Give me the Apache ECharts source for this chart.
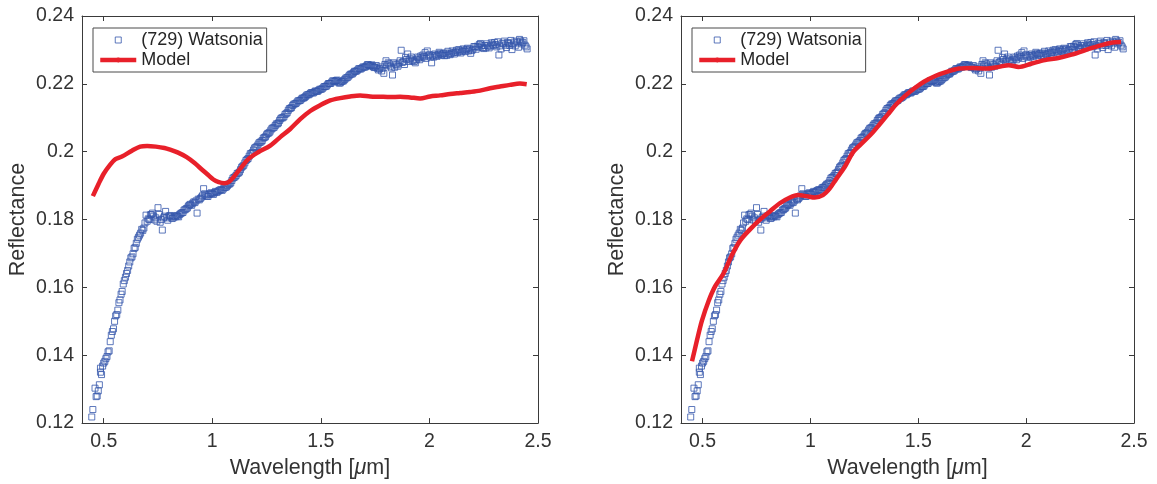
<!DOCTYPE html>
<html>
<head>
<meta charset="utf-8">
<script src="https://cdn.jsdelivr.net/npm/echarts@6/dist/echarts.min.js"></script>
<style>
html,body{margin:0;padding:0;background:#fff;}
#chart{width:1157px;height:484px;}
</style>
</head>
<body>
<div id="chart"></div>
<script>
// ---- Data ----
var xTicks = [0.5, 1, 1.5, 2, 2.5];
var yTicks = [0.12, 0.14, 0.16, 0.18, 0.2, 0.22, 0.24];

var obsWl = [0.445,0.45,0.46,0.465,0.47,0.48,0.485,0.49,0.50,0.51,0.52,0.53,0.54,0.55,0.56,0.57,0.58,0.59,0.60,0.61,0.62,0.63,0.64,0.65,0.66,0.67,0.68,0.69,0.70,0.71,0.72,0.73,0.74,0.75,0.76,0.77,0.78,0.79,0.80,0.81,0.82,0.83,0.84,0.85,0.86,0.87,0.88,0.89,0.90,0.91,0.92,0.93,0.94,0.95,0.96,0.97,0.98,0.99,1.00,1.01,1.02,1.03,1.04,1.05,1.06,1.07,1.08,1.09,1.10,1.11,1.12,1.13,1.14,1.15,1.16,1.17,1.18,1.19,1.20,1.21,1.22,1.23,1.24,1.25,1.26,1.27,1.28,1.29,1.30,1.31,1.32,1.33,1.34,1.35,1.36,1.37,1.38,1.39,1.40,1.41,1.42,1.43,1.44,1.45,1.46,1.47,1.48,1.49,1.50,1.51,1.52,1.53,1.54,1.55,1.56,1.57,1.58,1.59,1.60,1.61,1.62,1.63,1.64,1.65,1.66,1.67,1.68,1.69,1.70,1.71,1.72,1.73,1.74,1.75,1.76,1.77,1.78,1.79,1.80,1.81,1.82,1.83,1.84,1.85,1.86,1.87,1.88,1.89,1.90,1.91,1.92,1.93,1.94,1.95,1.96,1.97,1.98,1.99,2.00,2.01,2.02,2.03,2.04,2.05,2.06,2.07,2.08,2.09,2.10,2.11,2.12,2.13,2.14,2.15,2.16,2.17,2.18,2.19,2.20,2.21,2.22,2.23,2.24,2.25,2.26,2.27,2.28,2.29,2.30,2.31,2.32,2.33,2.34,2.35,2.36,2.37,2.38,2.39,2.40,2.41,2.42,2.43,2.44,2.45];
var obsRef = [0.1218,0.1240,0.1303,0.1278,0.1280,0.1313,0.1362,0.1343,0.1377,0.1390,0.1410,0.1440,0.1470,0.1500,0.1520,0.1555,0.1580,0.1610,0.1630,0.1650,0.1675,0.1690,0.1715,0.1730,0.1748,0.1760,0.1768,0.1790,0.1795,0.1800,0.1815,0.1810,0.1805,0.1835,0.1792,0.1769,0.1810,0.1805,0.1810,0.1808,0.1805,0.1808,0.1810,0.1815,0.1820,0.1828,0.1832,0.1840,0.1845,0.1848,0.1850,0.1819,0.1858,0.1866,0.1891,0.1872,0.1868,0.1876,0.1877,0.1879,0.1880,0.1885,0.1888,0.1890,0.1895,0.1900,0.1905,0.1915,0.1924,0.1930,0.1937,0.1947,0.1957,0.1967,0.1977,0.1987,0.1995,0.2005,0.2013,0.2020,0.2028,0.2033,0.2042,0.2050,0.2055,0.2064,0.2070,0.2077,0.2082,0.2092,0.2100,0.2103,0.2112,0.2122,0.2128,0.2136,0.2141,0.2146,0.2150,0.2155,0.2158,0.2163,0.2168,0.2171,0.2174,0.2176,0.2178,0.2181,0.2184,0.2188,0.2192,0.2197,0.2201,0.2205,0.2208,0.2210,0.2205,0.2203,0.2208,0.2213,0.2218,0.2224,0.2229,0.2233,0.2237,0.2241,0.2244,0.2247,0.2249,0.2253,0.2256,0.2254,0.2251,0.2249,0.2246,0.2244,0.2238,0.2231,0.2268,0.2262,0.2252,0.2226,0.2249,0.2256,0.2261,0.2299,0.2266,0.2278,0.2288,0.2274,0.2268,0.2266,0.2271,0.2276,0.2282,0.2285,0.2292,0.2297,0.2286,0.2262,0.2279,0.2284,0.2286,0.2289,0.2287,0.2283,0.2284,0.2288,0.2290,0.2292,0.2294,0.2293,0.2297,0.2296,0.2299,0.2301,0.2297,0.2290,0.2302,0.2309,0.2311,0.2316,0.2312,0.2304,0.2306,0.2312,0.2311,0.2317,0.2322,0.2309,0.2285,0.2303,0.2318,0.2314,0.2322,0.2313,0.2301,0.2323,0.2326,0.2308,0.2326,0.2322,0.2314,0.2303];

var obsWl2 = [1.755,1.765,1.775,1.785,1.795,1.805,1.815,1.825,1.835,1.845,1.855,1.865,1.875,1.885,1.895,1.905,1.915,1.925,1.935,1.945,1.955,1.965,1.975,1.985,1.995,2.005,2.015,2.025,2.035,2.045,2.055,2.065,2.075,2.085,2.095,2.105,2.115,2.125,2.135,2.145,2.155,2.165,2.175,2.185,2.195,2.205,2.215,2.225,2.235,2.245,2.255,2.265,2.275,2.285,2.295,2.305,2.315,2.325,2.335,2.345,2.355,2.365,2.375,2.385,2.395,2.405,2.415,2.425,2.435,2.445];
var obsRef2 = [0.2254,0.2241,0.2250,0.2246,0.2257,0.2255,0.2259,0.2247,0.2262,0.2258,0.2252,0.2268,0.2263,0.2257,0.2272,0.2266,0.2279,0.2270,0.2262,0.2279,0.2271,0.2277,0.2280,0.2275,0.2283,0.2279,0.2284,0.2288,0.2281,0.2293,0.2284,0.2290,0.2291,0.2296,0.2286,0.2297,0.2288,0.2299,0.2301,0.2291,0.2303,0.2295,0.2305,0.2303,0.2298,0.2310,0.2302,0.2308,0.2319,0.2307,0.2313,0.2318,0.2306,0.2321,0.2313,0.2316,0.2324,0.2312,0.2320,0.2326,0.2307,0.2319,0.2328,0.2317,0.2312,0.2321,0.2331,0.2318,0.2327,0.2309];

var obsWl3 = [0.475,0.485,0.495,0.505,0.515,0.525,0.535,0.545,0.555,0.565,
0.575,0.585,0.595,0.605,0.615,0.625,0.635,0.645,0.655,0.665,
0.675,0.685,0.695,0.705,0.715,0.725,0.735,0.745,0.755,0.765,
0.775,0.785,0.795,0.805,0.815,0.825,0.835,0.845,0.855,0.865,
0.875,0.885,0.895,0.905,0.915,0.925,0.935,0.945,0.955,0.965,
0.975,0.985,0.995,1.005,1.015,1.025,1.035,1.045,1.055,1.065,
1.075,1.085,1.095,1.105,1.115,1.125,1.135,1.145,1.155,1.165,
1.175,1.185,1.195,1.205,1.215,1.225,1.235,1.245,1.255,1.265,
1.275,1.285,1.295,1.305,1.315,1.325,1.335,1.345,1.355,1.365,
1.375,1.385,1.395,1.405,1.415,1.425,1.435,1.445,1.455,1.465,
1.475,1.485,1.495,1.505,1.515,1.525,1.535,1.545,1.555,1.565,
1.575,1.585,1.595,1.605,1.615,1.625,1.635,1.645,1.655,1.665,
1.675,1.685,1.695,1.705,1.715,1.725,1.735,1.745];
var obsRef3 = [0.1295,0.1350,0.1368,0.1382,0.1396,0.1413,0.1459,0.1478,0.1516,0.1533,
0.1563,0.1588,0.1620,0.1641,0.1663,0.1687,0.1699,0.1718,0.1742,0.1754,
0.1771,0.1775,0.1813,0.1802,0.1814,0.1819,0.1799,0.1795,0.1815,0.1800,
0.1805,0.1824,0.1798,0.1812,0.1803,0.1810,0.1812,0.1808,0.1818,0.1821,
0.1829,0.1834,0.1843,0.1842,0.1852,0.1855,0.1860,0.1862,0.1870,0.1876,
0.1869,0.1874,0.1879,0.1874,0.1883,0.1882,0.1887,0.1886,0.1894,0.1896,
0.1904,0.1908,0.1922,0.1926,0.1936,0.1940,0.1954,0.1960,0.1974,0.1980,
0.1994,0.1998,0.2011,0.2015,0.2026,0.2029,0.2040,0.2044,0.2054,0.2058,
0.2069,0.2072,0.2082,0.2085,0.2097,0.2100,0.2110,0.2115,0.2127,0.2130,
0.2140,0.2142,0.2150,0.2151,0.2158,0.2160,0.2167,0.2168,0.2174,0.2173,
0.2179,0.2178,0.2184,0.2185,0.2192,0.2193,0.2201,0.2201,0.2209,0.2207,
0.2211,0.2202,0.2207,0.2209,0.2217,0.2220,0.2228,0.2229,0.2237,0.2238,
0.2245,0.2244,0.2250,0.2250,0.2257,0.2253,0.2256,0.2248];

var modelLWl = [0.450,0.474,0.500,0.530,0.554,0.584,0.630,0.668,0.700,0.740,0.780,0.806,0.840,0.882,0.920,0.944,0.980,1.005,1.030,1.055,1.075,1.098,1.129,1.167,1.213,1.267,1.313,1.359,1.405,1.451,1.497,1.543,1.589,1.635,1.681,1.727,1.773,1.819,1.865,1.911,1.957,2.003,2.049,2.095,2.141,2.187,2.233,2.279,2.325,2.371,2.417,2.448];
var modelLRef = [0.1869,0.1902,0.1935,0.1962,0.1978,0.1986,0.2003,0.2015,0.2017,0.2015,0.2011,0.2006,0.1998,0.1984,0.1966,0.1952,0.1932,0.1918,0.1910,0.1907,0.1910,0.1925,0.1950,0.1979,0.1999,0.2018,0.2043,0.2067,0.2096,0.2120,0.2137,0.2151,0.2158,0.2163,0.2166,0.2163,0.2162,0.2161,0.2162,0.2160,0.2157,0.2163,0.2166,0.2170,0.2173,0.2176,0.2180,0.2187,0.2192,0.2197,0.2201,0.2199];

var modelRWl = [0.451,0.474,0.497,0.528,0.558,0.597,0.635,0.674,0.720,0.766,0.812,0.858,0.905,0.943,0.982,1.020,1.058,1.089,1.120,1.158,1.198,1.244,1.282,1.321,1.359,1.397,1.436,1.482,1.528,1.581,1.635,1.689,1.750,1.811,1.873,1.919,1.965,2.026,2.087,2.149,2.210,2.272,2.333,2.394,2.440];
var modelRRef = [0.1382,0.1444,0.1502,0.1560,0.1603,0.1641,0.1694,0.1738,0.1771,0.1800,0.1824,0.1848,0.1865,0.1872,0.1869,0.1865,0.1872,0.1891,0.1920,0.1954,0.1999,0.2028,0.2052,0.2081,0.2110,0.2139,0.2163,0.2187,0.2207,0.2224,0.2236,0.2245,0.2247,0.2245,0.2250,0.2255,0.2250,0.2260,0.2270,0.2276,0.2286,0.2299,0.2311,0.2321,0.2323];

var obsName = '(729) Watsonia';
var modelName = 'Model';

// ---- Build ----
function pairs(a, b) { return a.map(function (v, i) { return [v, b[i]]; }); }
var obsData = pairs(obsWl, obsRef).concat(pairs(obsWl3, obsRef3)).concat(pairs(obsWl2, obsRef2));

var FONT = '"Liberation Sans", Arial, sans-serif';
var TXT = '#333333';
var AX = '#3a3a3a';
var BLUE = '#3556ab';
var RED = '#e8202a';

function fmt(v) { return String(+v.toFixed(2)); }

function xAxes(g) {
  return [{
    gridIndex: g, type: 'value', min: 0.4, max: 2.5, position: 'bottom',
    axisLine: { show: true, onZero: false, lineStyle: { color: AX, width: 1 } },
    axisTick: { show: true, inside: true, length: 5, customValues: xTicks, lineStyle: { color: AX } },
    axisLabel: { customValues: xTicks, formatter: fmt, fontSize: 19.5, color: TXT, fontFamily: FONT, margin: 9 },
    splitLine: { show: false },
    name: 'Wavelength [{mu|μ}m]', nameLocation: 'middle', nameGap: 25,
    nameTextStyle: { fontSize: 21.5, color: TXT, fontFamily: FONT,
      rich: { mu: { fontSize: 21.5, color: TXT, fontFamily: FONT, fontStyle: 'italic' } } }
  }, {
    gridIndex: g, type: 'value', min: 0.4, max: 2.5, position: 'top',
    axisLine: { show: true, onZero: false, lineStyle: { color: AX, width: 1 } },
    axisTick: { show: true, inside: true, length: 5, customValues: xTicks, lineStyle: { color: AX } },
    axisLabel: { show: false, customValues: xTicks },
    splitLine: { show: false }
  }];
}
function yAxes(g) {
  return [{
    gridIndex: g, type: 'value', min: 0.12, max: 0.24, position: 'left',
    axisLine: { show: true, onZero: false, lineStyle: { color: AX, width: 1 } },
    axisTick: { show: true, inside: true, length: 5, customValues: yTicks, lineStyle: { color: AX } },
    axisLabel: { customValues: yTicks, formatter: fmt, fontSize: 19.5, color: TXT, fontFamily: FONT, margin: 8 },
    splitLine: { show: false },
    name: 'Reflectance', nameLocation: 'middle', nameGap: 53,
    nameTextStyle: { fontSize: 21.5, color: TXT, fontFamily: FONT }
  }, {
    gridIndex: g, type: 'value', min: 0.12, max: 0.24, position: 'right',
    axisLine: { show: true, onZero: false, lineStyle: { color: AX, width: 1 } },
    axisTick: { show: true, inside: true, length: 5, customValues: yTicks, lineStyle: { color: AX } },
    axisLabel: { show: false, customValues: yTicks },
    splitLine: { show: false }
  }];
}

function legendAt(left) {
  return {
    left: left, top: 28, orient: 'vertical',
    padding: [2, 4, 2, 5], itemGap: 0, itemWidth: 36, itemHeight: 6,
    borderColor: '#4a4a4a', borderWidth: 1, backgroundColor: '#ffffff',
    selectedMode: false, symbolKeepAspect: true,
    textStyle: { fontSize: 18, lineHeight: 20, color: '#262626', fontFamily: FONT },
    data: [
      { name: obsName, icon: 'path://M0,0L10,0L10,10L0,10Z',
        itemStyle: { color: 'rgba(0,0,0,0)', borderColor: BLUE, borderWidth: 1 } },
      { name: modelName, lineStyle: { width: 4.5, color: RED } }
    ]
  };
}

var chart = echarts.init(document.getElementById('chart'), null, { renderer: 'canvas' });
chart.setOption({
  animation: false,
  backgroundColor: '#ffffff',
  grid: [
    { left: 82, top: 16, width: 456, height: 415 },
    { left: 681, top: 16, width: 453, height: 415 }
  ],
  xAxis: xAxes(0).concat(xAxes(1)),
  yAxis: yAxes(0).concat(yAxes(1)),
  legend: [legendAt(93), legendAt(692)],
  series: [
    { name: obsName, type: 'scatter', xAxisIndex: 0, yAxisIndex: 0, data: obsData,
      symbol: 'rect', symbolSize: 6,
      itemStyle: { color: 'rgba(0,0,0,0)', borderColor: BLUE, borderWidth: 1 } },
    { name: modelName, type: 'line', xAxisIndex: 0, yAxisIndex: 0, data: pairs(modelLWl, modelLRef),
      symbol: 'none', smooth: 0.3, lineStyle: { color: RED, width: 4.5 }, itemStyle: { color: RED }, z: 3 },
    { name: obsName, type: 'scatter', xAxisIndex: 2, yAxisIndex: 2, data: obsData,
      symbol: 'rect', symbolSize: 6,
      itemStyle: { color: 'rgba(0,0,0,0)', borderColor: BLUE, borderWidth: 1 } },
    { name: modelName, type: 'line', xAxisIndex: 2, yAxisIndex: 2, data: pairs(modelRWl, modelRRef),
      symbol: 'none', smooth: 0.3, lineStyle: { color: RED, width: 4.5 }, itemStyle: { color: RED }, z: 3 }
  ]
});
</script>
</body>
</html>
